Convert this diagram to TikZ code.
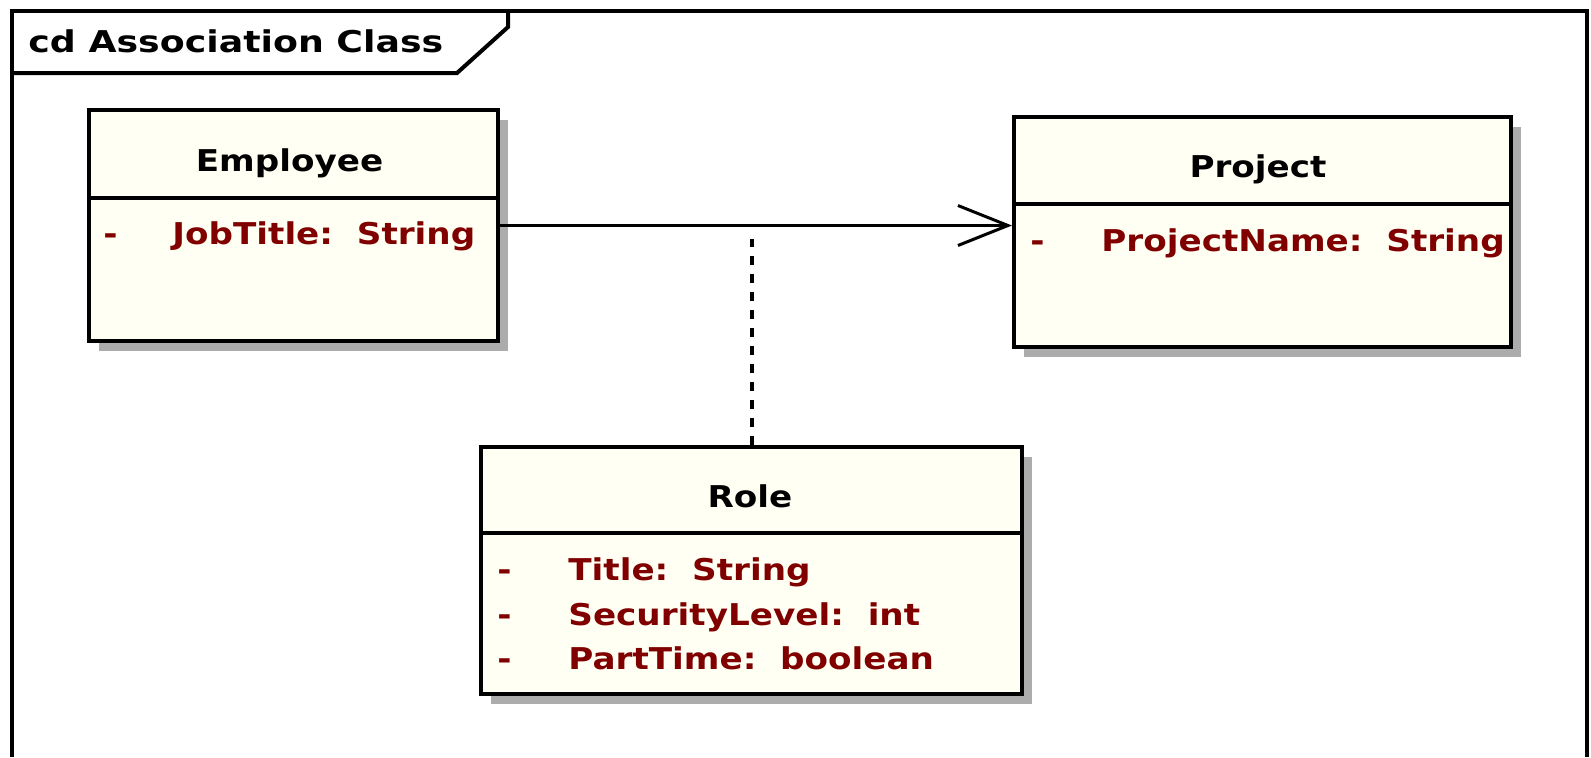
\documentclass[tikz,border=0pt]{standalone}
\usepackage{fontspec}
\newfontfamily\umlfont[FakeStretch=1.14]{DejaVu Sans}
\newfontfamily\umlframefont[FakeStretch=1.21]{DejaVu Sans}
\usetikzlibrary{arrows.meta,shadows}
\definecolor{classfill}{RGB}{255,255,244}
\definecolor{attrred}{RGB}{128,0,0}
\definecolor{shadowgray}{RGB}{172,172,172}
\begin{document}
\begin{tikzpicture}[x=0.5pt,y=-0.5pt,
  framepen/.style={draw=black, line width=2pt},
  classbox/.style={draw=black, line width=2pt, fill=classfill, rectangle,
    anchor=north west, inner sep=0pt,
    general shadow={fill=shadowgray, shadow xshift=5pt, shadow yshift=-5pt}},
  seppen/.style={draw=black, line width=1.6pt},
  umltext/.style={inner sep=0pt, font=\umlfont\bfseries\fontsize{15pt}{18pt}\selectfont},
  titletext/.style={umltext, text=black, anchor=base},
  frametext/.style={inner sep=0pt, text=black, anchor=base west,
    font=\umlframefont\bfseries\fontsize{15pt}{18pt}\selectfont},
  attrtext/.style={umltext, text=attrred, anchor=base west},
  assocline/.style={draw=black, line width=1.5pt},
  assocdash/.style={draw=black, line width=2pt, dash pattern=on 4.5pt off 4.5pt}]
\useasboundingbox (0,0) rectangle (1591,757);
% frame
\draw[framepen] (12,757) -- (12,11) -- (1587,11) -- (1587,757);
\draw[framepen] (12,73) -- (457,73) -- (508,27) -- (508,11);
\node[frametext] (frametitle) at (28,52) {cd~Association~Class};
% classes
\node[classbox, minimum width=204.5pt, minimum height=115.5pt] (emp) at (87,108) {};
\node[classbox, minimum width=248.5pt, minimum height=115pt] (proj) at (1012,115) {};
\node[classbox, minimum width=270.5pt, minimum height=123.5pt] (role) at (479,445) {};
\draw[seppen] (emp.west |- 0,198) -- (emp.east |- 0,198);
\draw[seppen] (proj.west |- 0,204) -- (proj.east |- 0,204);
\draw[seppen] (role.west |- 0,533) -- (role.east |- 0,533);
% texts
\node[titletext] (empname) at (289.5,171) {Employee};
\node[attrtext] (empvis) at (103,244) {-};
\node[attrtext] (empattr) at (172,244) {JobTitle:~~String};
\node[titletext] (projname) at (1258,177) {Project};
\node[attrtext] (projvis) at (1030,251) {-};
\node[attrtext] (projattr) at (1101,251) {ProjectName:~~String};
\node[titletext] (rolename) at (750,507) {Role};
\node[attrtext] (rolevisa) at (497,580) {-};
\node[attrtext] (roleattra) at (568,580) {Title:~~String};
\node[attrtext] (rolevisb) at (497,625) {-};
\node[attrtext] (roleattrb) at (568,625) {SecurityLevel:~~int};
\node[attrtext] (rolevisc) at (497,669) {-};
\node[attrtext] (roleattrc) at (568,669) {PartTime:~~boolean};
% connectors
\draw[assocline, -{Straight Barb[length=25pt, width=20pt]}] (emp.east) -- (emp.east -| proj.west);
\coordinate (mid) at ([yshift=-6.5pt]role.north |- emp.east);
\draw[assocdash] (role.north) -- (mid);
\end{tikzpicture}
\end{document}
